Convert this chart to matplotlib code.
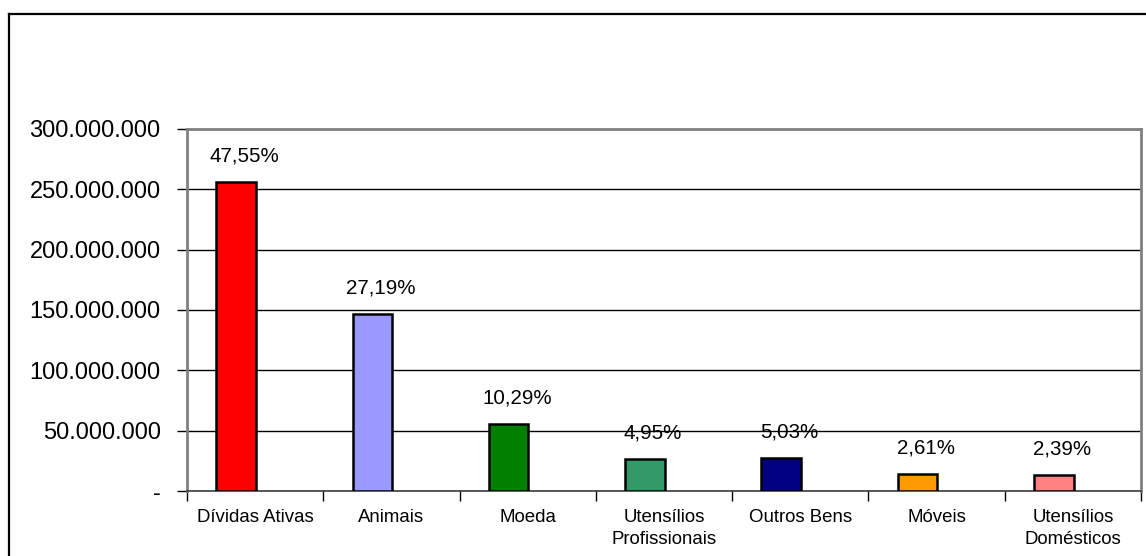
import matplotlib.pyplot as plt
from matplotlib.lines import Line2D
from matplotlib.ticker import FuncFormatter

plt.rcParams["font.family"] = ["Liberation Sans", "DejaVu Sans"]

categorias = ["Dívidas Ativas", "Animais", "Moeda", "Utensílios\nProfissionais",
              "Outros Bens", "Móveis", "Utensílios\nDomésticos"]
valores = [256.0e6, 146.4e6, 55.4e6, 26.6e6, 27.1e6, 14.0e6, 12.9e6]
percentuais = ["47,55%", "27,19%", "10,29%", "4,95%", "5,03%", "2,61%", "2,39%"]
cores = ["#FF0000", "#9999FF", "#008000", "#339966", "#000080", "#FF9900", "#FF8080"]


def fmt_milhar(v, pos):
    if v == 0:
        return "-"
    return f"{int(v):,}".replace(",", ".")


fig = plt.figure(figsize=(11.46, 5.56), dpi=100)
ax = fig.add_axes([0.1632, 0.1169, 0.8324, 0.6511])

# barras deslocadas à esquerda como no Excel (segunda série vazia)
pos = [i - 0.14 for i in range(len(categorias))]
bars = ax.bar(pos, valores, width=0.29, color=cores, edgecolor="black", linewidth=1.8, zorder=3)

for b, p in zip(bars, percentuais):
    ax.annotate(p, (b.get_x() + b.get_width() / 2 + 0.06, b.get_height()), xytext=(0, 12),
                textcoords="offset points", ha="center", va="bottom", fontsize=14.8, zorder=4)

ax.set_xlim(-0.5, len(categorias) - 0.5)
ax.set_ylim(0, 300e6)
ax.set_yticks(range(0, 300_000_001, 50_000_000))
ax.yaxis.set_major_formatter(FuncFormatter(fmt_milhar))
ax.tick_params(axis="y", labelsize=17, length=7, width=1, color="black", pad=12)
ax.yaxis.grid(True, color="black", linewidth=1, zorder=0)

ax.set_xticks(range(len(categorias)))
ax.set_xticklabels(categorias, fontsize=13.4, linespacing=1.35)
ax.tick_params(axis="x", which="major", length=0, pad=13)
ax.set_xticks([i - 0.5 for i in range(len(categorias) + 1)], minor=True)
ax.tick_params(axis="x", which="minor", length=7, width=1, color="black")

for s in ["left", "right", "top"]:
    ax.spines[s].set_color("#808080")
    ax.spines[s].set_linewidth(2)
ax.spines["bottom"].set_color("#404040")
ax.spines["bottom"].set_linewidth(1.2)

# moldura externa do gráfico
fig.add_artist(Line2D([0.0075, 1.0], [0.9757, 0.9757], transform=fig.transFigure, color="black", linewidth=1.6))
fig.add_artist(Line2D([0.0075, 0.0075], [0.0, 0.9757], transform=fig.transFigure, color="black", linewidth=1.6))

fig.savefig("out.png", dpi=100)
